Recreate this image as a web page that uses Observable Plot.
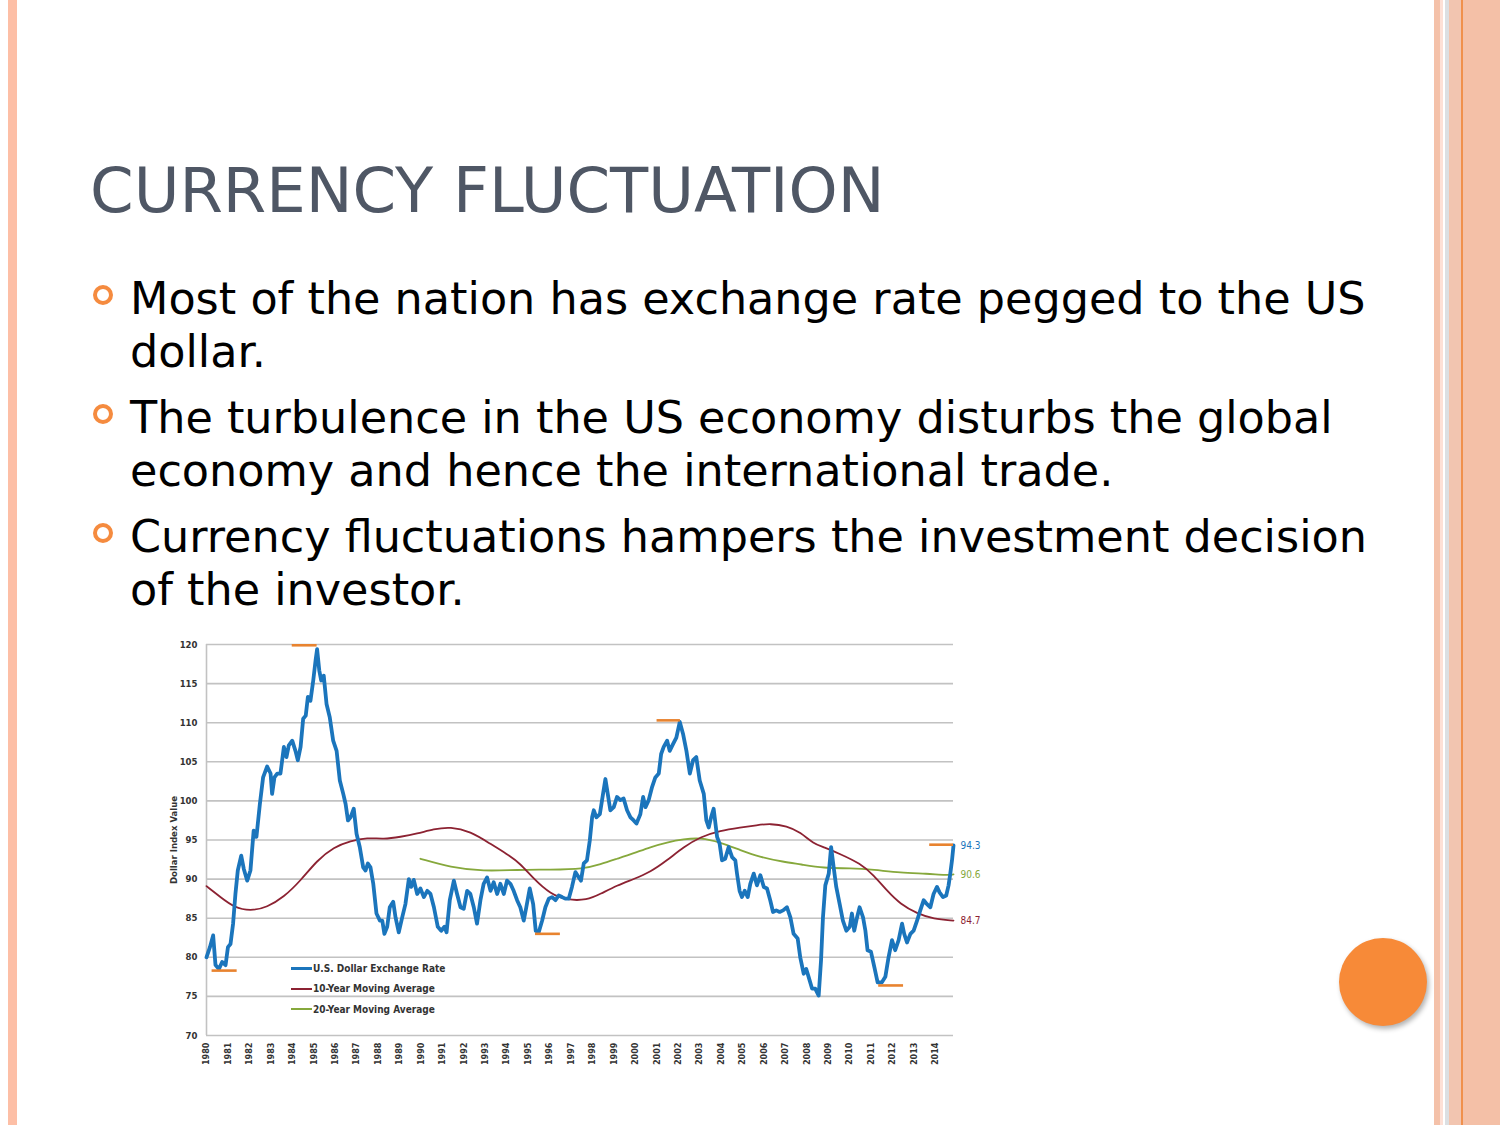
<!DOCTYPE html>
<html>
<head>
<meta charset="utf-8">
<script src="https://cdn.jsdelivr.net/npm/d3@7"></script>
<script src="https://cdn.jsdelivr.net/npm/@observablehq/plot@0.6"></script>
<style>
  html, body { margin: 0; padding: 0; }
  body { width: 1500px; height: 1125px; position: relative; background: #ffffff; overflow: hidden; font-family: "DejaVu Sans", sans-serif; }
  .abs { position: absolute; }
  #title { left: 90px; top: 160px; font-size: 62.5px; line-height: 62px; color: #4f5765; white-space: nowrap; letter-spacing: 0px; }
  #bullets { left: 130px; top: 272px; width: 1300px; font-size: 44.5px; line-height: 53px; color: #000; }
  #bullets p { margin: 0 0 13px 0; position: relative; white-space: nowrap; }
  #bullets p::before { content: ""; position: absolute; left: -37px; top: 13px; width: 12px; height: 12px; border: 4.5px solid #f58b3f; border-radius: 50%; }
  #chart { left: 140px; top: 630px; width: 858px; height: 445px; }
  #chart svg { display: block; max-width: none; }
  #legend { left: 291px; top: 958px; font-family: "DejaVu Sans Condensed", "DejaVu Sans", sans-serif; font-weight: bold; font-size: 10px; color: #333; }
  .lg { display: flex; align-items: center; height: 20.5px; }
  .sw { width: 21px; margin-right: 1px; }
</style>
</head>
<body>
<div class="abs" style="left:8px;top:0;width:9px;height:1125px;background:#fdbfa6"></div>
<div class="abs" style="left:1434px;top:0;width:66px;height:1125px;background:#f4c1a9"></div>
<div class="abs" style="left:1440px;top:0;width:4px;height:1125px;background:#fde0d6"></div>
<div class="abs" style="left:1443px;top:0;width:2px;height:1125px;background:#ffffff"></div>
<div class="abs" style="left:1445px;top:0;width:4px;height:1125px;background:#dcdfe2"></div>
<div class="abs" style="left:1449px;top:0;width:12px;height:1125px;background:#f2c5b0"></div>
<div class="abs" style="left:1461px;top:0;width:2px;height:1125px;background:#f0904c"></div>
<div class="abs" style="left:1463px;top:0;width:37px;height:1125px;background:#f4c0a7"></div>

<div id="title" class="abs">CURRENCY FLUCTUATION</div>
<div id="bullets" class="abs">
  <p>Most of the nation has exchange rate pegged to the US<br>dollar.</p>
  <p>The turbulence in the US economy disturbs the global<br>economy and hence the international trade.</p>
  <p>Currency fluctuations hampers the investment decision<br>of the investor.</p>
</div>

<div id="chart" class="abs"></div>
<div id="legend" class="abs"></div>

<div class="abs" style="left:1339px;top:938px;width:88px;height:88px;border-radius:50%;background:#f78a38;box-shadow:2px 3px 5px rgba(0,0,0,0.3)"></div>

<script>
// ---- data ----
const years = d3.range(1980, 2015);
const yTicks = [70, 75, 80, 85, 90, 95, 100, 105, 110, 115, 120];

const seriesNames = ["U.S. Dollar Exchange Rate", "10-Year Moving Average", "20-Year Moving Average"];
const seriesColors = ["#1b75bc", "#8c2232", "#86a83c"];

// [year, index value]
const usdRate = [
 [1980.0,80.0],[1980.16,81.3],[1980.31,82.8],[1980.42,79.0],[1980.58,78.5],[1980.73,79.4],[1980.89,79.0],
 [1981.0,81.3],[1981.12,81.7],[1981.24,84.3],[1981.35,88.1],[1981.46,91.1],[1981.62,93.0],[1981.74,91.3],[1981.9,89.8],
 [1982.05,91.1],[1982.2,96.2],[1982.33,95.4],[1982.49,99.6],[1982.64,103.0],[1982.83,104.4],[1982.99,103.5],
 [1983.06,100.9],[1983.17,103.0],[1983.3,103.5],[1983.45,103.5],[1983.61,106.9],[1983.73,105.6],[1983.84,107.1],
 [1984.0,107.7],[1984.15,106.4],[1984.26,105.2],[1984.39,106.9],[1984.51,110.5],[1984.63,110.9],[1984.73,113.3],[1984.85,112.8],[1984.98,115.4],
 [1985.09,118.0],[1985.16,119.4],[1985.26,116.7],[1985.35,115.4],[1985.47,116.0],[1985.6,112.4],[1985.75,110.7],[1985.91,107.7],
 [1986.07,106.4],[1986.22,102.6],[1986.38,100.9],[1986.49,99.6],[1986.6,97.5],[1986.72,97.9],[1986.87,99.0],
 [1987.0,95.8],[1987.15,94.1],[1987.31,91.5],[1987.42,91.1],[1987.53,92.0],[1987.65,91.5],[1987.78,89.4],[1987.93,85.6],
 [1988.09,84.7],[1988.2,84.7],[1988.3,83.0],[1988.43,83.9],[1988.55,86.4],[1988.71,87.1],[1988.82,85.1],[1988.97,83.2],
 [1989.13,85.1],[1989.28,86.8],[1989.44,90.0],[1989.55,89.0],[1989.67,89.9],[1989.83,88.1],[1989.98,88.8],
 [1990.14,87.7],[1990.3,88.5],[1990.45,88.1],[1990.61,86.4],[1990.79,83.9],[1990.95,83.4],
 [1991.1,83.9],[1991.2,83.2],[1991.35,87.3],[1991.54,89.8],[1991.69,88.1],[1991.85,86.4],
 [1992.0,86.2],[1992.16,88.5],[1992.31,88.1],[1992.47,86.4],[1992.62,84.3],[1992.78,87.3],[1992.93,89.4],
 [1993.09,90.2],[1993.25,88.5],[1993.4,89.6],[1993.56,88.1],[1993.71,89.4],[1993.87,88.1],
 [1994.02,89.8],[1994.18,89.4],[1994.33,88.5],[1994.49,87.3],[1994.64,86.4],[1994.8,84.7],[1994.92,86.4],
 [1995.08,88.8],[1995.24,86.8],[1995.36,83.4],[1995.5,83.2],[1995.66,84.7],[1995.81,86.4],[1995.97,87.5],
 [1996.12,87.7],[1996.28,87.3],[1996.43,87.9],[1996.59,87.7],[1996.74,87.5],[1996.9,87.5],
 [1997.05,89.0],[1997.21,90.9],[1997.37,90.2],[1997.47,89.8],[1997.6,92.0],[1997.75,92.4],[1997.88,94.9],[1997.99,97.9],
 [1998.07,98.8],[1998.19,97.9],[1998.35,98.3],[1998.5,100.9],[1998.61,102.8],[1998.72,100.9],[1998.84,98.8],
 [1999.0,99.2],[1999.15,100.5],[1999.31,100.1],[1999.46,100.3],[1999.62,98.8],[1999.78,97.9],[1999.93,97.5],
 [2000.06,97.1],[2000.24,98.3],[2000.37,100.5],[2000.48,99.2],[2000.63,100.1],[2000.79,101.8],[2000.94,103.0],
 [2001.1,103.5],[2001.21,106.0],[2001.33,106.9],[2001.49,107.7],[2001.61,106.4],[2001.77,107.3],[2001.92,108.1],
 [2002.08,110.1],[2002.23,108.6],[2002.39,106.4],[2002.55,103.5],[2002.7,105.2],[2002.85,105.6],
 [2003.01,102.6],[2003.2,100.9],[2003.32,97.5],[2003.43,96.6],[2003.54,97.9],[2003.66,99.0],[2003.82,95.4],[2003.94,94.5],
 [2004.05,92.4],[2004.2,92.6],[2004.36,94.1],[2004.52,92.8],[2004.67,92.4],[2004.75,90.7],[2004.87,88.5],[2004.98,87.7],
 [2005.11,88.5],[2005.25,87.7],[2005.37,89.4],[2005.53,90.7],[2005.68,89.2],[2005.84,90.5],
 [2006.0,89.0],[2006.15,88.8],[2006.3,87.3],[2006.43,85.8],[2006.58,86.0],[2006.74,85.8],[2006.9,86.0],
 [2007.08,86.4],[2007.24,85.1],[2007.39,83.0],[2007.58,82.4],[2007.7,80.0],[2007.86,77.9],[2007.98,78.5],
 [2008.09,77.5],[2008.25,76.0],[2008.4,76.0],[2008.56,75.1],[2008.67,79.6],[2008.76,85.1],[2008.87,89.2],
 [2009.03,90.7],[2009.14,94.1],[2009.26,91.5],[2009.38,89.0],[2009.54,86.8],[2009.69,84.7],[2009.85,83.4],
 [2010.01,83.9],[2010.11,85.6],[2010.22,83.4],[2010.35,85.1],[2010.47,86.4],[2010.63,85.1],[2010.74,83.4],[2010.84,80.9],
 [2011.0,80.7],[2011.16,78.7],[2011.31,76.8],[2011.51,76.8],[2011.67,77.5],[2011.82,80.0],[2011.98,82.2],
 [2012.13,80.9],[2012.29,82.2],[2012.45,84.3],[2012.55,83.0],[2012.68,81.9],[2012.84,83.0],[2012.99,83.4],
 [2013.15,84.7],[2013.3,86.0],[2013.46,87.3],[2013.61,86.8],[2013.77,86.4],[2013.92,88.1],
 [2014.08,89.0],[2014.2,88.3],[2014.36,87.7],[2014.51,87.9],[2014.62,89.2],[2014.7,90.7],[2014.78,92.4],[2014.85,94.3]
];

const ma10 = [
 [1980.0,89.1],[1980.65,87.7],[1981.28,86.4],[1982.05,85.9],[1982.83,86.4],[1983.61,87.7],[1984.39,89.8],
 [1985.16,92.4],[1985.94,94.1],[1986.72,94.9],[1987.5,95.3],[1988.27,95.1],[1989.05,95.4],[1989.83,95.8],
 [1990.6,96.4],[1991.38,96.7],[1992.31,96.1],[1993.25,94.5],[1994.02,93.2],[1994.64,92.0],[1995.27,90.0],
 [1996.04,88.1],[1996.82,87.3],[1997.75,87.3],[1998.38,88.1],[1999.15,89.2],[1999.93,90.0],[2000.71,90.9],
 [2001.49,92.4],[2002.26,94.1],[2003.04,95.4],[2003.97,96.2],[2004.91,96.6],[2005.68,96.9],[2006.3,97.1],
 [2007.08,96.8],[2007.7,96.0],[2008.33,94.5],[2008.79,94.1],[2009.57,93.2],[2010.5,92.0],[2011.13,90.5],
 [2011.75,88.5],[2012.37,86.8],[2013.15,85.6],[2013.92,84.9],[2014.85,84.7]
];

const ma20 = [
 [1989.98,92.6],[1991.38,91.5],[1992.93,91.0],[1994.49,91.2],[1996.04,91.2],[1997.6,91.3],[1998.38,91.9],
 [1999.15,92.6],[1999.93,93.3],[2000.71,94.1],[2001.49,94.7],[2002.26,95.1],[2003.04,95.3],[2003.97,94.7],
 [2004.91,93.7],[2005.84,92.8],[2006.93,92.2],[2007.7,91.9],[2008.79,91.4],[2010.04,91.4],[2011.13,91.2],
 [2012.37,90.8],[2013.61,90.7],[2014.55,90.5],[2014.85,90.6]
];

// highlighted extremes: [fromYear, toYear, value]
const extremes = [
 [1980.26, 1981.43, 78.3],
 [1984.0, 1985.16, 119.9],
 [1995.35, 1996.51, 83.0],
 [2001.02, 2002.11, 110.3],
 [2011.36, 2012.52, 76.4],
 [2013.74, 2014.85, 94.4]
];

// ---- chart ----
const endPoints = [
  {v: usdRate[usdRate.length - 1], c: seriesColors[0]},
  {v: ma20[ma20.length - 1], c: seriesColors[2]},
  {v: ma10[ma10.length - 1], c: seriesColors[1]}
];

const chart = Plot.plot({
  width: 858,
  height: 445,
  marginLeft: 66,
  marginRight: 45,
  marginTop: 14,
  marginBottom: 40,
  style: {fontFamily: "'DejaVu Sans Condensed', 'DejaVu Sans', sans-serif", fontSize: "9.5px", fontWeight: "bold", color: "#333", background: "transparent", overflow: "visible"},
  x: {domain: [1980, 2014.85], label: null},
  y: {domain: [70, 120], label: null},
  marks: [
    Plot.gridY(yTicks, {stroke: "#c2c2c2", strokeOpacity: 1, strokeWidth: 1.6}),
    Plot.ruleX([1980], {stroke: "#c2c2c2", strokeWidth: 1.6}),
    Plot.axisY(yTicks, {tickSize: 0, tickPadding: 9, label: "Dollar Index Value", labelAnchor: "center", labelArrow: "none", labelOffset: 36, fill: "#333"}),
    Plot.axisX(years, {tickSize: 0, tickPadding: 7, tickRotate: -90, tickFormat: d => String(d), label: null, fill: "#333", fontSize: 9}),
    Plot.line(ma20, {x: d => d[0], y: d => d[1], stroke: seriesColors[2], strokeWidth: 1.8, curve: "basis"}),
    Plot.line(ma10, {x: d => d[0], y: d => d[1], stroke: seriesColors[1], strokeWidth: 1.8, curve: "basis"}),
    Plot.line(usdRate, {x: d => d[0], y: d => d[1], stroke: seriesColors[0], strokeWidth: 3.8, strokeLinejoin: "round"}),
    Plot.ruleY(extremes, {x1: d => d[0], x2: d => d[1], y: d => d[2], stroke: "#e8832f", strokeWidth: 2.6}),
    Plot.text(endPoints, {x: d => d.v[0], y: d => d.v[1], text: d => d.v[1].toFixed(1), fill: d => d.c, dx: 7, textAnchor: "start", fontWeight: "normal", fontSize: 10})
  ]
});
document.getElementById("chart").appendChild(chart);

// ---- legend ----
const legend = document.getElementById("legend");
const lw = [3.4, 1.8, 1.8];
seriesNames.forEach((n, i) => {
  const row = document.createElement("div");
  row.className = "lg";
  const sw = document.createElement("div");
  sw.className = "sw";
  sw.style.height = lw[i] + "px";
  sw.style.background = seriesColors[i];
  const t = document.createElement("span");
  t.textContent = n;
  row.appendChild(sw);
  row.appendChild(t);
  legend.appendChild(row);
});
</script>
</body>
</html>
